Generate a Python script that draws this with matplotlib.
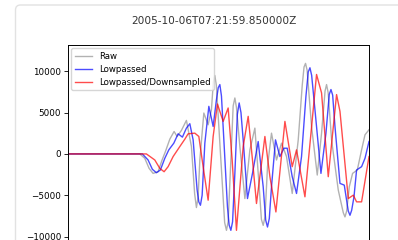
import numpy as np
import matplotlib.pyplot as plt
from matplotlib.patches import FancyBboxPatch
from matplotlib.transforms import IdentityTransform

#%% Data (time in samples, amplitude in counts)
t_raw = [0, 71.7, 76.7, 81, 85, 90, 94, 97.3, 101.7, 106, 109, 113.3, 118.3, 123.3,
         126.5, 128.3, 130, 131.7, 135.7, 140, 143.3, 145.2, 146.7, 148.2, 151.7, 156.5,
         158.3, 160, 162.7, 165, 166.7, 168.3, 171.7, 176.7, 181.7, 186.7, 191, 193.2,
         195, 196.8, 199.3, 203.3, 208.3, 213.3, 218.3, 224, 230, 234, 235.8, 237.3,
         238.9, 243.3, 249, 253.3, 256.8, 258.3, 259.9, 263.3, 270, 275, 276.7, 278.4,
         281, 284.3, 289, 293.3, 296.7, 300.7]
y_raw = [0, 0, -530, -1740, -2350, -2150, -730, 280, 1780, 2710, 2110, 2840, 4050, 900,
         -4800, -6480, -5200, -730, 4940, 3520, 5350, 8700, 9480, 8300, 1300, -8300,
         -9230, -8200, -730, 5800, 6760, 5600, 890, -5390, 490, 3120, -3970, -7900,
         -8630, -7600, -1540, 2510, -730, 1300, -320, -4780, 1700, 8300, 10500, 10940,
         10100, 3320, -2550, 2510, 7600, 8380, 7400, 1700, -4370, -7100, -7610, -6900,
         -3970, -2350, -1940, 490, 2310, 2920]

t_low = [0, 74.3, 80, 84.3, 88.3, 92.3, 96.7, 100.7, 105.7, 110, 114.3, 118.3, 121.7,
         125, 129, 130.7, 132.3, 134, 136.7, 140.7, 145, 148.3, 150.1, 151.7, 153.3,
         155.7, 159.3, 161, 162.7, 164.4, 166.7, 169.2, 171, 172.8, 175, 179.3, 184.3,
         190, 195, 197.5, 199.3, 201.1, 203.3, 207.3, 211.7, 215.7, 219, 224, 228.3,
         233.3, 237.7, 240, 241.7, 243.4, 246.7, 252.7, 257.7, 261, 262.7, 264.4, 266.7,
         271.7, 276, 280, 281.7, 283.4, 285.7, 288.3, 293.3, 296.7, 300.7]
y_low = [0, 0, -730, -1860, -2270, -1940, -530, 490, 1300, 2430, 2030, 3120, 3650,
         1700, -4370, -5800, -6200, -5000, 1300, 5750, 3320, 6560, 8000, 8380, 7000,
         1700, -6400, -8600, -9230, -8200, -2350, 4800, 6160, 5000, 1700, -5390, -2350,
         1500, -3970, -8000, -8830, -7800, -3970, 1700, -320, 690, 690, -2750, -4780,
         -320, 6970, 9900, 10410, 9500, 5350, -2350, 2510, 7200, 7780, 7100, 3320,
         -3560, -3770, -6900, -7410, -6800, -5180, -1940, -1540, -530, 1500]

t_down = [0, 78.3, 86.7, 91.7, 96, 100, 105, 111.7, 116.7, 120, 126.7, 130.7, 135, 140,
          145, 149.3, 155, 160, 164, 168.3, 175, 180, 184.3, 188.3, 196.7, 201.7, 207.7,
          216.7, 224, 228.3, 236.7, 248.3, 253.3, 260, 268.3, 271.7, 280, 285, 288.3,
          293.3, 300.7]
y_down = [0, 0, -730, -1740, -2150, -1540, -320, 890, 1780, 2430, 2510, 2110, -1540,
          -5590, 2110, 6030, 3930, 5550, -730, -9230, 890, 4540, -730, -5990, 2110,
          -2750, -7010, 3930, -1540, 490, -5180, 9600, 7370, -2750, 7170, 5140, -5390,
          -4980, -5790, -5790, -320]

title = '2005-10-06T07:21:59.850000Z'
yticks = [-10000, -5000, 0, 5000, 10000]

#%% Plot
fig = plt.figure(figsize=(3.98, 2.40), dpi=100)

# notebook output card border (behind the axes)
card = FancyBboxPatch((15.5, -20), 420, 255, boxstyle='round,pad=0,rounding_size=5',
                      transform=IdentityTransform(), fc='white', ec='#e2e2e2', lw=1.0,
                      zorder=-5)
fig.add_artist(card)

ax = fig.add_axes([68/398, -0.038, 301/398, 0.8505])
ax.plot(t_raw, y_raw, color='k', alpha=0.3, lw=1.0, solid_joinstyle='round', label='Raw')
ax.plot(t_low, y_low, color='b', alpha=0.7, lw=1.0, solid_joinstyle='round', label='Lowpassed')
ax.plot(t_down, y_down, color='r', alpha=0.7, lw=1.0, label='Lowpassed/Downsampled')

ax.set_xlim(0, 300.7)
ax.set_ylim(-11500, 13160)
ax.set_yticks(yticks)
ax.tick_params(labelsize=6.3, length=3, width=0.6, pad=2)
ax.tick_params(axis='x', labelbottom=False)
for s in ax.spines.values():
    s.set_linewidth(0.7)
ax.legend(loc='upper left', fontsize=6.2, borderaxespad=0.4, handlelength=2.0,
          labelspacing=0.45, borderpad=0.4, framealpha=0.8)

fig.text(214/398, 1 - 21/240, title, ha='center', va='center', fontsize=7.6,
         color='#333333')

fig.savefig('out.png', dpi=100)
